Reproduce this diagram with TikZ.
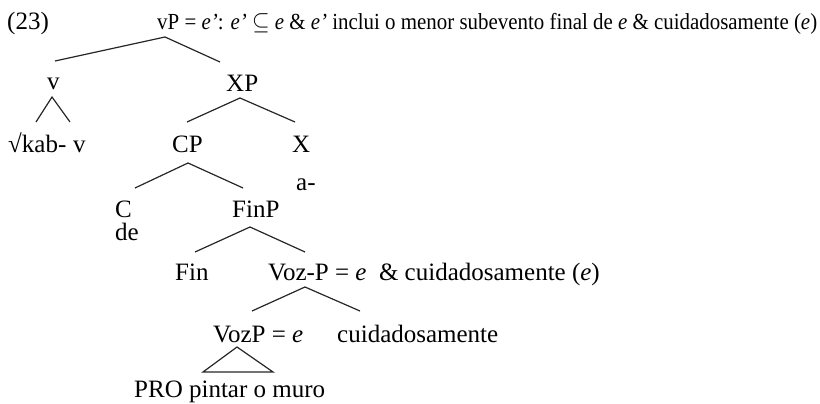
\documentclass[tikz,border=0pt]{standalone}
\usepackage{fontspec}
\setmainfont{Liberation Serif}
\usepackage{graphicx}
\begin{document}
\begin{tikzpicture}[x=1pt,y=-1pt,
  lbl/.style={anchor=base west,inner sep=0pt,font=\fontsize{25}{29}\selectfont},
  toplbl/.style={anchor=base west,inner sep=0pt,font=\fontsize{23}{27}\selectfont},
  branch/.style={line width=1.2pt,draw=black!85,line join=miter}]
\useasboundingbox (0,0) rectangle (820,404);
% labels
\node[lbl] (ex) at (7,30) {(23)};
\node[toplbl] (vP) at (157,30) {\resizebox{660pt}{\height}{vP = \textit{e’}: \textit{e’} $\subseteq$ \textit{e} \& \textit{e’} inclui o menor subevento final de \textit{e} \& cuidadosamente (\textit{e})}};
\node[lbl] (v) at (47,90) {v};
\node[lbl] (XP) at (226,92) {XP};
\node[lbl] (root) at (8,152) {√kab-};
\node[lbl] (v2) at (73,152) {v};
\node[lbl] (CP) at (172,153) {CP};
\node[lbl] (X) at (292,153) {X};
\node[lbl] (a) at (296,190) {a-};
\node[lbl] (C) at (115,217) {C};
\node[lbl] (de) at (115,240) {de};
\node[lbl] (FinP) at (232,217) {FinP};
\node[lbl] (Fin) at (175,280) {Fin};
\node[lbl] (VozPbar) at (268,280) {Voz-P = \textit{e}\ \ \& cuidadosamente (\textit{e})};
\node[lbl] (VozP) at (213,342) {VozP = \textit{e}};
\node[lbl] (cuid) at (337,342) {cuidadosamente};
\node[lbl] (PRO) at (134,397) {PRO pintar o muro};
% branch points
\coordinate (vP-a) at (165,37);
\coordinate (vP-l) at (55,61);
\coordinate (vP-r) at (220,62);
\coordinate (v-a) at (52,97);
\coordinate (v-l) at (36,122);
\coordinate (v-r) at (70,122);
\coordinate (XP-a) at (240,98);
\coordinate (XP-l) at (187,122);
\coordinate (XP-r) at (295,122);
\coordinate (CP-a) at (188,163);
\coordinate (CP-l) at (135,188);
\coordinate (CP-r) at (243,188);
\coordinate (FinP-a) at (250,227);
\coordinate (FinP-l) at (195,252);
\coordinate (FinP-r) at (305,252);
\coordinate (Voz-a) at (305,287);
\coordinate (Voz-l) at (252,311);
\coordinate (Voz-r) at (360,311);
\coordinate (tri-a) at (237,347);
\coordinate (tri-l) at (203,372);
\coordinate (tri-r) at (273,372);
% branches
\draw[branch] (vP-l) -- (vP-a) -- (vP-r);
\draw[branch] (v-l) -- (v-a) -- (v-r);
\draw[branch] (XP-l) -- (XP-a) -- (XP-r);
\draw[branch] (CP-l) -- (CP-a) -- (CP-r);
\draw[branch] (FinP-l) -- (FinP-a) -- (FinP-r);
\draw[branch] (Voz-l) -- (Voz-a) -- (Voz-r);
\draw[branch] (tri-a) -- (tri-l) -- (tri-r) -- cycle;
\end{tikzpicture}
\end{document}
